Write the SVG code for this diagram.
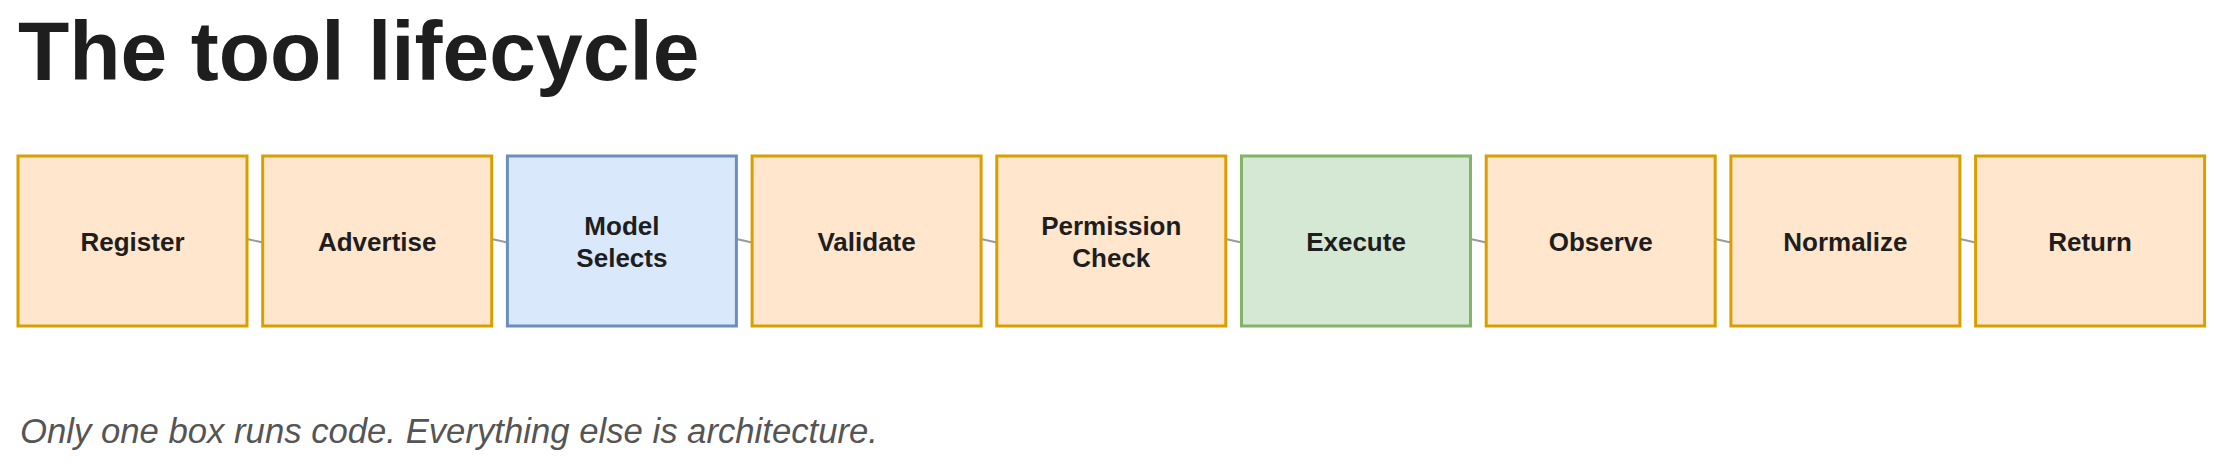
<svg xmlns="http://www.w3.org/2000/svg" width="2232" height="467" viewBox="0 0 2232 467">
<style>
.box{stroke-width:3}
.orange{fill:#ffe6cc;stroke:#d99e00}
.blue{fill:#dae8fc;stroke:#6c8ebf}
.green{fill:#d5e8d4;stroke:#82b366}
.lbl{font-family:"Liberation Sans",Arial,sans-serif;font-weight:bold;font-size:26px;fill:#1e1e1e;text-anchor:middle}
.conn line{stroke:#9a9a9a;stroke-width:2}
</style>
<rect width="2232" height="467" fill="#ffffff"/>
<text x="18" y="80" font-family="'Liberation Sans',Arial,sans-serif" font-weight="bold" font-size="84" fill="#1e1e1e">The tool lifecycle</text>
<g id="connectors" class="conn">
<line x1="247" y1="239" x2="262.7" y2="242.5"/>
<line x1="491.7" y1="239" x2="507.4" y2="242.5"/>
<line x1="736.4" y1="239" x2="752.1" y2="242.5"/>
<line x1="981.1" y1="239" x2="996.8" y2="242.5"/>
<line x1="1225.8" y1="239" x2="1241.5" y2="242.5"/>
<line x1="1470.5" y1="239" x2="1486.2" y2="242.5"/>
<line x1="1715.2" y1="239" x2="1730.9" y2="242.5"/>
<line x1="1959.9" y1="239" x2="1975.6" y2="242.5"/>
</g>
<g id="register"><rect class="box orange" x="18" y="156" width="229" height="170"/><text class="lbl" x="132.5" y="250.5">Register</text></g>
<g id="advertise"><rect class="box orange" x="262.7" y="156" width="229" height="170"/><text class="lbl" x="377.2" y="250.5">Advertise</text></g>
<g id="model-selects"><rect class="box blue" x="507.4" y="156" width="229" height="170"/><text class="lbl" x="621.9" y="234.5">Model</text><text class="lbl" x="621.9" y="266.5">Selects</text></g>
<g id="validate"><rect class="box orange" x="752.1" y="156" width="229" height="170"/><text class="lbl" x="866.6" y="250.5">Validate</text></g>
<g id="permission-check"><rect class="box orange" x="996.8" y="156" width="229" height="170"/><text class="lbl" x="1111.3" y="234.5">Permission</text><text class="lbl" x="1111.3" y="266.5">Check</text></g>
<g id="execute"><rect class="box green" x="1241.5" y="156" width="229" height="170"/><text class="lbl" x="1356" y="250.5">Execute</text></g>
<g id="observe"><rect class="box orange" x="1486.2" y="156" width="229" height="170"/><text class="lbl" x="1600.7" y="250.5">Observe</text></g>
<g id="normalize"><rect class="box orange" x="1730.9" y="156" width="229" height="170"/><text class="lbl" x="1845.4" y="250.5">Normalize</text></g>
<g id="return"><rect class="box orange" x="1975.6" y="156" width="229" height="170"/><text class="lbl" x="2090.1" y="250.5">Return</text></g>
<text x="20" y="443" font-family="'Liberation Sans',Arial,sans-serif" font-style="italic" font-size="34.7" fill="#555555">Only one box runs code. Everything else is architecture.</text>
</svg>
